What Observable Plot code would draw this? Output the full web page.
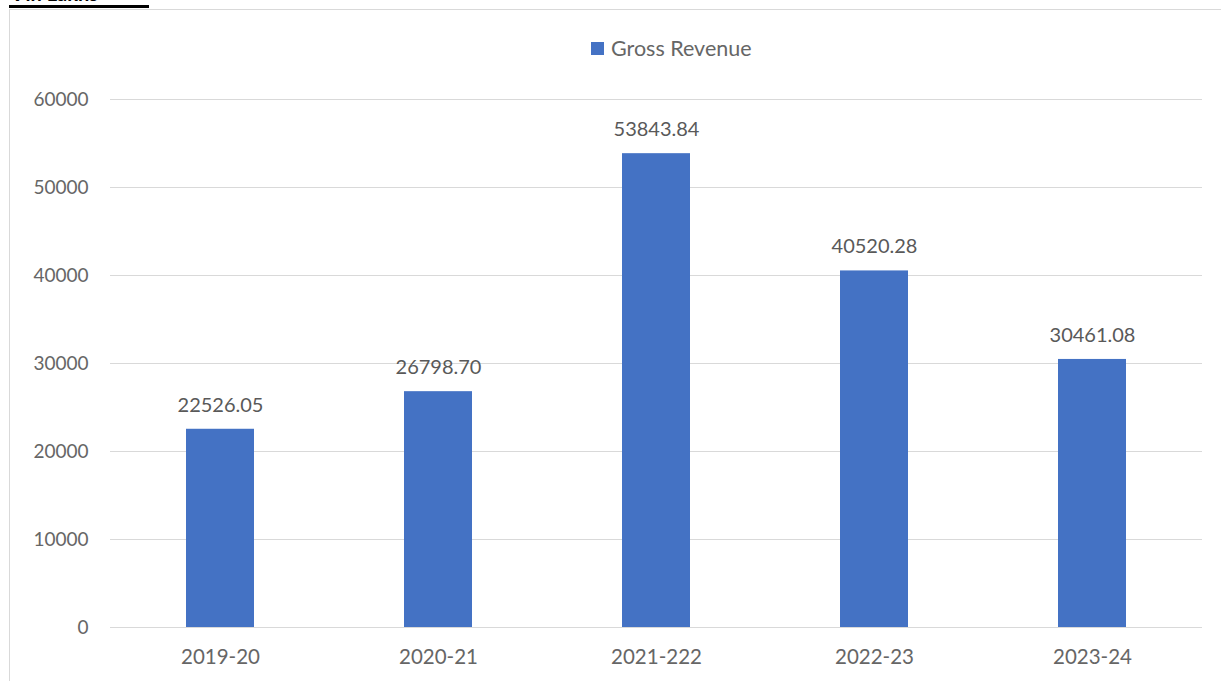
<!DOCTYPE html>
<html>
<head>
<meta charset="utf-8">
<script src="https://cdn.jsdelivr.net/npm/d3@7"></script>
<script src="https://cdn.jsdelivr.net/npm/@observablehq/plot@0.6"></script>
<style>
  html, body { margin: 0; padding: 0; background: #fff; overflow: hidden; }
  #wrap { position: relative; width: 1221px; height: 681px; font-family: Lato, "Open Sans", sans-serif; }
  #title { position: absolute; left: 9px; top: -19px; font: bold 20px Lato, sans-serif; color: #000;
           border-bottom: 3px solid #000; line-height: 24px; white-space: nowrap; width: 140px; }
  #frame { position: absolute; left: 9px; top: 9px; width: 1230px; height: 700px;
           border-left: 1px solid #d9d9d9; border-top: 1px solid #d9d9d9; }
  #legend { position: absolute; left: 591px; top: 35px; font-size: 21.5px; color: #666; display: flex; align-items: center; }
  #legend .sw { width: 13px; height: 13px; background: #4472c4; margin-right: 7px; }
  #chart { position: absolute; left: 0; top: 0; }
</style>
</head>
<body>
<div id="wrap">
  <div id="title">₹ in Lakhs</div>
  <div id="frame"></div>
  <div id="legend"><div class="sw"></div><span>Gross Revenue</span></div>
  <div id="chart"></div>
</div>
<script>
const years = ["2019-20", "2020-21", "2021-222", "2022-23", "2023-24"];
const grossRevenue = [22526.05, 26798.70, 53843.84, 40520.28, 30461.08];
const valueLabels = ["22526.05", "26798.70", "53843.84", "40520.28", "30461.08"];
const yTicks = [0, 10000, 20000, 30000, 40000, 50000, 60000];

const data = years.map((y, i) => ({year: y, value: grossRevenue[i], label: valueLabels[i]}));

const chart = Plot.plot({
  width: 1221,
  height: 681,
  marginLeft: 110,
  marginRight: 19,
  marginTop: 99,
  marginBottom: 54,
  style: {background: "transparent", fontFamily: "Lato, 'Open Sans', sans-serif"},
  x: {domain: years, paddingInner: 0.69, paddingOuter: 0.345, label: null},
  y: {domain: [0, 60000], label: null},
  marks: [
    Plot.gridY(yTicks, {stroke: "#d9d9d9", strokeOpacity: 1, strokeWidth: 1}),
    Plot.barY(data, {x: "year", y: "value", fill: "#4472c4"}),
    Plot.text(data, {x: "year", y: "value", text: "label", dy: -24, fontSize: 20, fill: "#595959"}),
    Plot.axisY(yTicks, {tickSize: 0, tickPadding: 22, fontSize: 19, color: "#666", tickFormat: d => String(d)}),
    Plot.axisX({tickSize: 0, tickPadding: 22, fontSize: 20.5, color: "#666"})
  ]
});
document.getElementById("chart").appendChild(chart);
</script>
</body>
</html>
